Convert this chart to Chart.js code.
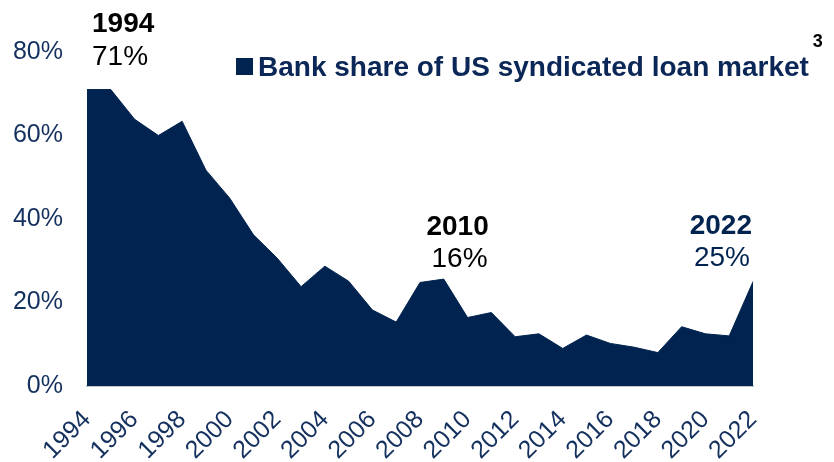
<!DOCTYPE html>
<html>
<head>
<meta charset="utf-8">
<script src="https://cdn.jsdelivr.net/npm/chart.js@4.4.1/dist/chart.umd.min.js"></script>
<style>
  html, body { margin: 0; padding: 0; background: #ffffff; }
  #wrap { width: 834px; height: 462px; position: relative; }
</style>
</head>
<body>
<div id="wrap"><canvas id="c" width="834" height="462"></canvas></div>
<script>
const years = ['1994','1995','1996','1997','1998','1999','2000','2001','2002','2003','2004','2005','2006','2007','2008','2009','2010','2011','2012','2013','2014','2015','2016','2017','2018','2019','2020','2021','2022'];
const bankShare = [71, 71, 63.9, 60.0, 63.4, 51.7, 45.0, 36.2, 30.6, 23.8, 28.7, 25.1, 18.2, 15.3, 24.8, 25.6, 16.4, 17.6, 11.8, 12.5, 9.0, 12.2, 10.2, 9.3, 8.0, 14.2, 12.5, 12.0, 25.0];
const yTicks = [0, 20, 40, 60, 80];
const seriesName = 'Bank share of US syndicated loan market';
const footnoteMark = '3';
const calloutYears = ['1994', '2010', '2022'];
const calloutLabels = ['71%', '16%', '25%'];

const NAVY = '#00234F';
const TICK = '#14305E';
const FONT = "'Liberation Sans', Arial, sans-serif";

const annotationPlugin = {
  id: 'annotations',
  afterDraw(chart) {
    const ctx = chart.ctx;
    const xs = chart.scales.x;
    const top = chart.chartArea.top;
    const styles = [
      { align: 'left', dx: 5, dy1: -20, dy2: 13, dx2: 0, color: '#000000' },
      { align: 'center', dx: -10, dy1: 183, dy2: 215, dx2: 2, color: '#000000' },
      { align: 'right', dx: -1, dy1: 182, dy2: 214, dx2: -2, color: NAVY }
    ];
    ctx.save();
    calloutYears.forEach((yr, i) => {
      const s = styles[i];
      const x = xs.getPixelForValue(years.indexOf(yr)) + s.dx;
      ctx.fillStyle = s.color;
      ctx.textAlign = s.align;
      ctx.textBaseline = 'alphabetic';
      ctx.font = 'bold 28px ' + FONT;
      ctx.fillText(yr, x, top + s.dy1);
      ctx.font = '28px ' + FONT;
      ctx.fillText(calloutLabels[i], x + s.dx2, top + s.dy2);
    });
    // legend
    ctx.fillStyle = NAVY;
    ctx.fillRect(236, 58, 17, 17);
    ctx.fillStyle = '#0B2757';
    ctx.textAlign = 'left';
    ctx.font = 'bold 28px ' + FONT;
    ctx.fillText(seriesName, 258, 76);
    const w = ctx.measureText(seriesName).width;
    ctx.font = 'bold 18px ' + FONT;
    ctx.fillStyle = '#000000';
    ctx.fillText(footnoteMark, 258 + w + 4, 47);
    ctx.restore();
  }
};

new Chart(document.getElementById('c'), {
  type: 'line',
  data: {
    labels: years,
    datasets: [{
      label: seriesName,
      data: bankShare,
      fill: 'origin',
      backgroundColor: NAVY,
      borderColor: NAVY,
      borderWidth: 1,
      pointRadius: 0,
      tension: 0
    }]
  },
  options: {
    responsive: false,
    animation: false,
    events: [],
    layout: { padding: { top: 52, right: 81, left: 0, bottom: 0 } },
    plugins: { legend: { display: false }, tooltip: { enabled: false } },
    scales: {
      x: {
        type: 'category',
        offset: false,
        grid: { display: false, drawTicks: false },
        border: { display: true, color: '#C3C8D0', width: 2 },
        ticks: {
          autoSkip: false,
          maxRotation: 45,
          minRotation: 45,
          padding: 19,
          color: TICK,
          font: { family: FONT, size: 25 },
          callback: function(v, i) { return (parseInt(years[i]) % 2 === 0) ? years[i] : ''; }
        },
        afterFit: function(s) { s.height = 76; s.paddingLeft = 0; s.paddingRight = 0; }
      },
      y: {
        min: 0,
        max: 80,
        grid: { display: false, drawTicks: false },
        border: { display: false },
        afterBuildTicks: function(s) { s.ticks = yTicks.map(v => ({ value: v })); },
        ticks: {
          padding: 24,
          color: TICK,
          font: { family: FONT, size: 25 },
          callback: v => v + '%'
        },
        afterFit: function(s) { s.width = 87; s.paddingTop = 0; s.paddingBottom = 0; }
      }
    }
  },
  plugins: [annotationPlugin]
});
</script>
</body>
</html>
